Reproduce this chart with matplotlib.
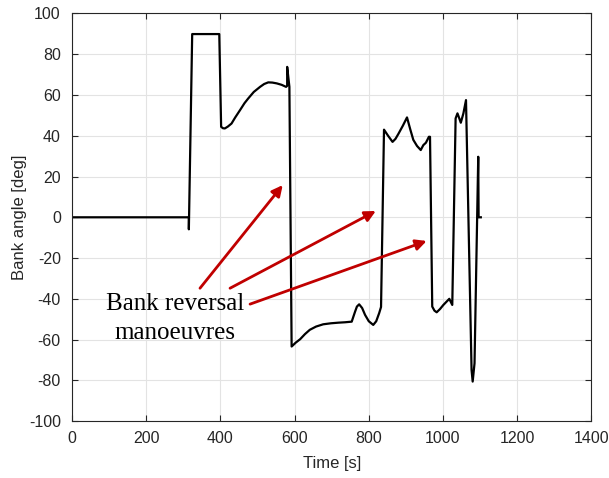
import matplotlib
matplotlib.use('Agg')
import matplotlib.pyplot as plt

# Bank angle history
time_s = [0, 315, 315, 324, 397, 402, 407, 412, 420, 430, 440, 453, 465, 475, 490,
          507, 518, 529, 540, 552, 565, 577, 580, 580, 586, 592, 603, 615, 628, 641,
          658, 677, 698, 718, 736, 754, 758, 763, 768, 774, 782, 790, 800, 812, 820,
          828, 833, 841, 852, 864, 872, 880, 892, 903, 912, 920, 930, 940, 947, 954,
          962, 965, 971, 977, 983, 992, 1001, 1009, 1017, 1025, 1034, 1039, 1044,
          1048, 1055, 1062, 1077, 1080, 1085, 1095, 1096, 1102]
bank_deg = [0, 0, -5.9, 89.9, 89.9, 44.4, 43.7, 43.6, 44.5, 46, 49, 52.6, 56, 58.3,
            61.5, 64, 65.4, 66.2, 66.1, 65.7, 65, 64, 64.5, 73.8, 64, -63.4, -61.5,
            -59.8, -57.3, -55.2, -53.6, -52.5, -52, -51.7, -51.5, -51.2, -49, -46.3,
            -43.8, -42.7, -44.5, -47.9, -51, -52.8, -51, -47, -44, 43, 40, 37, 38.5,
            41, 45, 49, 43, 38, 35, 33, 35.4, 36.6, 39.5, 39.5, -43.8, -45.8, -46.6,
            -45, -43, -41.5, -40, -43, 48.5, 51, 48.5, 46.4, 51, 57.5, -74.9, -80.6,
            -71.6, 29.7, 0, 0]

# arrows: (tail_x, tail_y) -> (tip_x, tip_y)
arrow_tails = [(345, -34.8), (426, -34.8), (480, -42.6)]
arrow_tips = [(568, 15.8), (819, 3.1), (956, -11.6)]

x_ticks = [0, 200, 400, 600, 800, 1000, 1200, 1400]
y_ticks = [-100, -80, -60, -40, -20, 0, 20, 40, 60, 80, 100]

plt.rcParams['font.family'] = ['Liberation Sans', 'DejaVu Sans']
plt.rcParams['axes.unicode_minus'] = False

fig = plt.figure(figsize=(6.09, 4.78), dpi=100)
ax = fig.add_axes([0.1182, 0.1190, 0.8529, 0.8528])

ax.plot(time_s, bank_deg, color='black', linewidth=1.6)

for tail, tip in zip(arrow_tails, arrow_tips):
    ax.annotate('', xy=tip, xytext=tail,
                arrowprops=dict(arrowstyle='-|>', color='#C00000', lw=2,
                                mutation_scale=16, shrinkA=0, shrinkB=0))

ax.text(278, -49.5, 'Bank reversal\nmanoeuvres', ha='center', va='center',
        fontsize=18, family='Liberation Serif', linespacing=1.4)

ax.set_xlim(0, 1400)
ax.set_ylim(-100, 100)
ax.set_xticks(x_ticks)
ax.set_yticks(y_ticks)
ax.grid(True, color='#e3e3e3', linewidth=0.8)
ax.set_axisbelow(True)
ax.tick_params(direction='in', top=True, right=True, length=4,
               labelsize=11.5, colors='#262626', width=0.8)
ax.tick_params(axis='x', pad=7)
ax.tick_params(axis='y', pad=8)
for s in ax.spines.values():
    s.set_color('#262626')
    s.set_linewidth(0.8)

ax.set_xlabel('Time [s]', fontsize=12, color='#262626', labelpad=7)
ax.set_ylabel('Bank angle [deg]', fontsize=12, color='#262626', labelpad=1)

fig.savefig('out.png', dpi=100)
